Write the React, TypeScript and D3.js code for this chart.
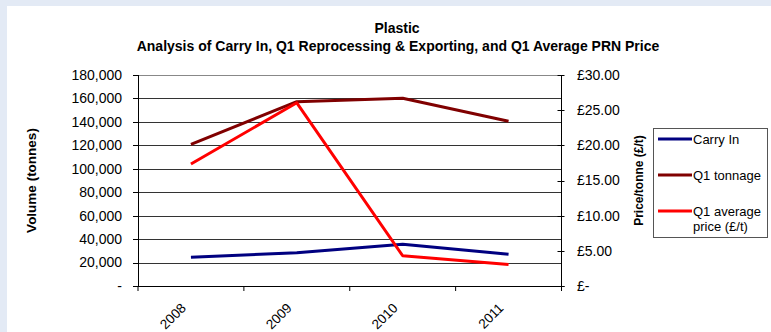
import React from "react";
import * as d3 from "d3";

const categories = ["2008", "2009", "2010", "2011"];
const carryIn = [24500, 28400, 35600, 27000];
const q1Tonnage = [120900, 157200, 160100, 140500];
const q1Price = [17.35, 26.05, 4.3, 3.05];
const leftTicks = [0, 20000, 40000, 60000, 80000, 100000, 120000, 140000, 160000, 180000];
const rightTicks = [0, 5, 10, 15, 20, 25, 30];
const seriesNames = ["Carry In", "Q1 tonnage", "Q1 average price (£/t)"];
const seriesColors = ["#000080", "#800000", "#ff0000"];

export default function App() {
  const W = 771, H = 332;
  const left = 138, right = 561.5, top = 75, bottom = 286;
  const x = d3.scaleBand<string>().domain(categories).range([left, right]);
  const y = d3.scaleLinear().domain([0, 180000]).range([bottom, top]);
  const y2 = d3.scaleLinear().domain([0, 30]).range([bottom, top]);
  const cx = (c: string) => (x(c) as number) + x.bandwidth() / 2;
  const lineL = d3.line<number>().x((_, i) => cx(categories[i])).y((v) => y(v));
  const lineR = d3.line<number>().x((_, i) => cx(categories[i])).y((v) => y2(v));
  const fmtL = (v: number) => (v === 0 ? "-" : d3.format(",")(v));
  const fmtR = (v: number) => (v === 0 ? "£-" : "£" + d3.format(".2f")(v));
  const font = "Liberation Sans, Arial, sans-serif";
  const boundaries = [...categories.map((c) => x(c) as number), right];
  const paths = [
    { d: lineL(carryIn), c: seriesColors[0] },
    { d: lineL(q1Tonnage), c: seriesColors[1] },
    { d: lineR(q1Price), c: seriesColors[2] },
  ];
  return (
    <svg width={W} height={H} style={{ position: "absolute", left: 0, top: 0 }} fontFamily={font}>
      <rect x={0} y={0} width={W} height={H} fill="#e3eaf5" />
      <rect x={7} y={6} width={W - 7} height={H - 6} fill="#ffffff" />
      <text x={397} y={33} textAnchor="middle" fontSize={14} fontWeight="bold">Plastic</text>
      <text x={398} y={51} textAnchor="middle" fontSize={14} fontWeight="bold">
        Analysis of Carry In, Q1 Reprocessing &amp; Exporting, and Q1 Average PRN Price
      </text>
      {leftTicks.map((t) => (
        <g key={"l" + t}>
          {t > 0 && <line x1={left} x2={right} y1={Math.round(y(t)) + 0.5} y2={Math.round(y(t)) + 0.5} stroke={t === 180000 ? "#888" : "#333"} strokeWidth={1} />}
          <line x1={left - 5} x2={left} y1={Math.round(y(t)) + 0.5} y2={Math.round(y(t)) + 0.5} stroke="#000" />
          <text x={122} y={y(t)} dy="0.35em" textAnchor="end" fontSize={14}>{fmtL(t)}</text>
        </g>
      ))}
      {rightTicks.map((t) => (
        <g key={"r" + t}>
          <line x1={right - 4} x2={right + 3} y1={Math.round(y2(t)) + 0.5} y2={Math.round(y2(t)) + 0.5} stroke="#000" />
          <text x={577} y={y2(t)} dy="0.35em" textAnchor="start" fontSize={14}>{fmtR(t)}</text>
        </g>
      ))}
      <line x1={left + 0.5} x2={left + 0.5} y1={top} y2={bottom} stroke="#000" />
      <line x1={right} x2={right} y1={top} y2={bottom} stroke="#000" />
      <line x1={left - 5} x2={right + 3} y1={bottom + 0.5} y2={bottom + 0.5} stroke="#000" />
      {boundaries.map((b, i) => (
        <line key={"b" + i} x1={b} x2={b} y1={bottom} y2={bottom + 5} stroke="#000" />
      ))}
      {categories.map((c) => (
        <text key={c} transform={`translate(${cx(c) - 7.5},${bottom + 19.5}) rotate(-45)`} textAnchor="end" dy="0.35em" fontSize={13.5}>{c}</text>
      ))}
      <text transform={`translate(36,${(top + bottom) / 2}) rotate(-90)`} textAnchor="middle" fontSize={13.5} fontWeight="bold">Volume (tonnes)</text>
      <text transform={`translate(643,${(top + bottom) / 2}) rotate(-90)`} textAnchor="middle" fontSize={12} fontWeight="bold">Price/tonne (£/t)</text>
      {paths.map((p, i) => (
        <path key={i} d={p.d || ""} fill="none" stroke={p.c} strokeWidth={3} strokeLinejoin="round" />
      ))}
      <rect x={653.5} y={128.5} width={114} height={109} fill="#fff" stroke="#555" />
      {seriesNames.map((n, i) => {
        const ly = 139 + i * 36;
        const parts = i === 2 ? ["Q1 average", "price (£/t)"] : [n];
        return (
          <g key={n}>
            <line x1={658} x2={692} y1={ly} y2={ly} stroke={seriesColors[i]} strokeWidth={3} />
            {parts.map((p, j) => (
              <text key={j} x={693} y={ly + j * 15} dy="0.35em" fontSize={13}>{p}</text>
            ))}
          </g>
        );
      })}
    </svg>
  );
}
